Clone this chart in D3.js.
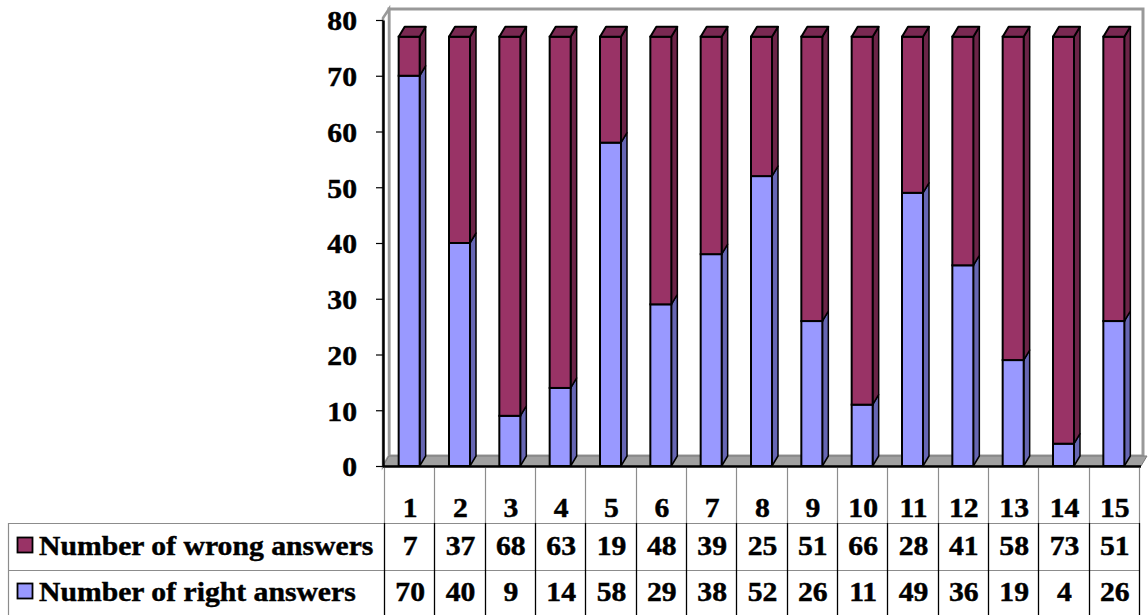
<!DOCTYPE html>
<html>
<head>
<meta charset="utf-8">
<script src="https://cdn.jsdelivr.net/npm/d3@7"></script>
<style>
  html, body { margin: 0; padding: 0; background: #ffffff; }
  svg { display: block; }
  text { font-family: "Liberation Serif", "Times New Roman", serif; font-weight: bold; fill: #000; stroke: #000; stroke-width: 0.45px; }
</style>
</head>
<body>
<svg id="chart" width="1148" height="615"></svg>
<script>
// Questions 1..15 with the number of wrong and right answers for each
const categories = ["1","2","3","4","5","6","7","8","9","10","11","12","13","14","15"];
const wrongAnswers = [7, 37, 68, 63, 19, 48, 39, 25, 51, 66, 28, 41, 58, 73, 51];
const rightAnswers = [70, 40, 9, 14, 58, 29, 38, 52, 26, 11, 49, 36, 19, 4, 26];
const yTicks = [0, 10, 20, 30, 40, 50, 60, 70, 80];
const seriesNames = ["Number of wrong answers", "Number of right answers"];

const svg = d3.select("#chart");

// plot geometry
const plotLeft = 384, plotRight = 1139;
const yBase = 466, yTop = 20;
const depthX = 6, depthY = -10;
const barW = 21;
const fontPx = 28, stretch = 1.06;

const x = d3.scaleBand().domain(categories).range([plotLeft, plotRight]).paddingInner(0).paddingOuter(0);
const y = d3.scaleLinear().domain([0, 80]).range([yBase, yTop]);

// colours: front, side, top faces
const palette = {
  right: { front: "#9999ff", side: "#6666b3", top: "#7a7acc" },
  wrong: { front: "#993366", side: "#6b2447", top: "#7a2952" }
};

const pts = arr => arr.map(p => p.join(",")).join(" ");

// ---- walls and floor ----
const wallG = svg.append("g");
// back wall
wallG.append("rect")
  .attr("x", plotLeft + 5).attr("y", yTop - 11)
  .attr("width", 1143 - (plotLeft + 5)).attr("height", (yBase + depthY) - (yTop - 11))
  .attr("fill", "#ffffff").attr("stroke", "#999999").attr("stroke-width", 3);
// left side wall
wallG.append("polygon")
  .attr("points", pts([[plotLeft - 1, yBase], [plotLeft - 1, yTop - 2], [plotLeft + 5, yTop - 11], [plotLeft + 5, yBase + depthY]]))
  .attr("fill", "#ffffff").attr("stroke", "#999999").attr("stroke-width", 2.5);
// floor
wallG.append("polygon")
  .attr("points", pts([[plotLeft - 1, yBase], [plotLeft + 5, yBase + depthY], [1147, yBase + depthY], [1141, yBase]]))
  .attr("fill", "#a0a0a0").attr("stroke", "#7a7a7a").attr("stroke-width", 1);
wallG.append("line")
  .attr("x1", plotLeft - 1).attr("x2", 1141).attr("y1", yBase + 0.5).attr("y2", yBase + 0.5)
  .attr("stroke", "#000").attr("stroke-width", 2.5);

// ---- stacked 3D columns ----
const rows = categories.map((c, i) => ({ cat: c, right: rightAnswers[i], wrong: wrongAnswers[i] }));
const layers = d3.stack().keys(["right", "wrong"])(rows);

const barsG = svg.append("g");
categories.forEach((c, i) => {
  const g = barsG.append("g");
  const x0 = x(c) + (x.bandwidth() - barW) / 2;
  const x1 = x0 + barW;
  layers.forEach((layer, li) => {
    const d = layer[i];
    const col = palette[layer.key];
    const yb = y(d[0]), yt = y(d[1]);
    // side face
    g.append("polygon")
      .attr("points", pts([[x1, yb], [x1 + depthX, yb + depthY], [x1 + depthX, yt + depthY], [x1, yt]]))
      .attr("fill", col.side).attr("stroke", "#000").attr("stroke-width", 1.5).attr("stroke-linejoin", "round");
    // front face
    g.append("rect")
      .attr("x", x0).attr("y", yt).attr("width", barW).attr("height", yb - yt)
      .attr("fill", col.front).attr("stroke", "#000").attr("stroke-width", 2);
    // top face on the uppermost segment
    if (li === layers.length - 1) {
      g.append("polygon")
        .attr("points", pts([[x0, yt], [x0 + depthX, yt + depthY], [x1 + depthX, yt + depthY], [x1, yt]]))
        .attr("fill", col.top).attr("stroke", "#000").attr("stroke-width", 2).attr("stroke-linejoin", "round");
    }
  });
});

// ---- value axis ----
const axisG = svg.append("g")
  .attr("transform", `translate(${plotLeft - 1},0)`)
  .call(d3.axisLeft(y).tickValues(yTicks).tickSize(7).tickSizeOuter(0).tickPadding(19).tickFormat(d3.format("d")));
axisG.select(".domain").attr("stroke", "#000").attr("stroke-width", 2.5);
axisG.selectAll(".tick line").attr("stroke", "#000").attr("stroke-width", 1.2);
axisG.selectAll(".tick text")
  .attr("font-family", "'Liberation Serif', 'Times New Roman', serif")
  .attr("font-weight", "bold")
  .attr("font-size", fontPx)
  .attr("fill", "#000")
  .attr("dy", "0.35em")
  .attr("x", -(7 + 19) / stretch)
  .attr("transform", `scale(${stretch},1)`);

// ---- data table ----
const tableG = svg.append("g");
const rowTop = 523, rowMid = 570, rowBottom = 615;
const legendLeft = 8.5;
const grey = "#8c8c8c";

// horizontal rules
[rowTop, rowMid].forEach(yy => {
  tableG.append("line")
    .attr("x1", legendLeft).attr("x2", plotRight).attr("y1", yy + 0.5).attr("y2", yy + 0.5)
    .attr("stroke", grey).attr("stroke-width", 1.2);
});
// left border of legend cells
tableG.append("line")
  .attr("x1", legendLeft).attr("x2", legendLeft).attr("y1", rowTop).attr("y2", rowBottom)
  .attr("stroke", grey).attr("stroke-width", 1.2);

// column separators
const bounds = categories.map(c => x(c)).concat([plotRight]);
bounds.forEach(bx => {
  const xx = Math.round(bx) + 0.5;
  tableG.append("line")
    .attr("x1", xx).attr("x2", xx).attr("y1", yBase + 2).attr("y2", rowTop)
    .attr("stroke", grey).attr("stroke-width", 1.2);
  tableG.append("line")
    .attr("x1", xx).attr("x2", xx).attr("y1", rowTop).attr("y2", rowBottom)
    .attr("stroke", "#000").attr("stroke-width", 1.3);
});

function putText(tx, ty, str, anchor) {
  tableG.append("text")
    .attr("transform", `translate(${tx},${ty}) scale(${stretch},1)`)
    .attr("text-anchor", anchor || "middle")
    .attr("font-size", fontPx)
    .text(str);
}

// header row: category labels
categories.forEach(c => putText(x(c) + x.bandwidth() / 2 + 1, 517, c));

// series rows with legend keys
const seriesRows = [
  { name: seriesNames[0], values: wrongAnswers, color: palette.wrong.front, base: 555, box: 537 },
  { name: seriesNames[1], values: rightAnswers, color: palette.right.front, base: 601, box: 583 }
];
seriesRows.forEach(r => {
  tableG.append("rect")
    .attr("x", 17.5).attr("y", r.box + 0.5).attr("width", 15).attr("height", 15)
    .attr("fill", r.color).attr("stroke", "#000").attr("stroke-width", 1.8);
  putText(39, r.base, r.name, "start");
  r.values.forEach((v, i) => putText(x(categories[i]) + x.bandwidth() / 2 + 1, r.base, String(v)));
});
</script>
</body>
</html>
